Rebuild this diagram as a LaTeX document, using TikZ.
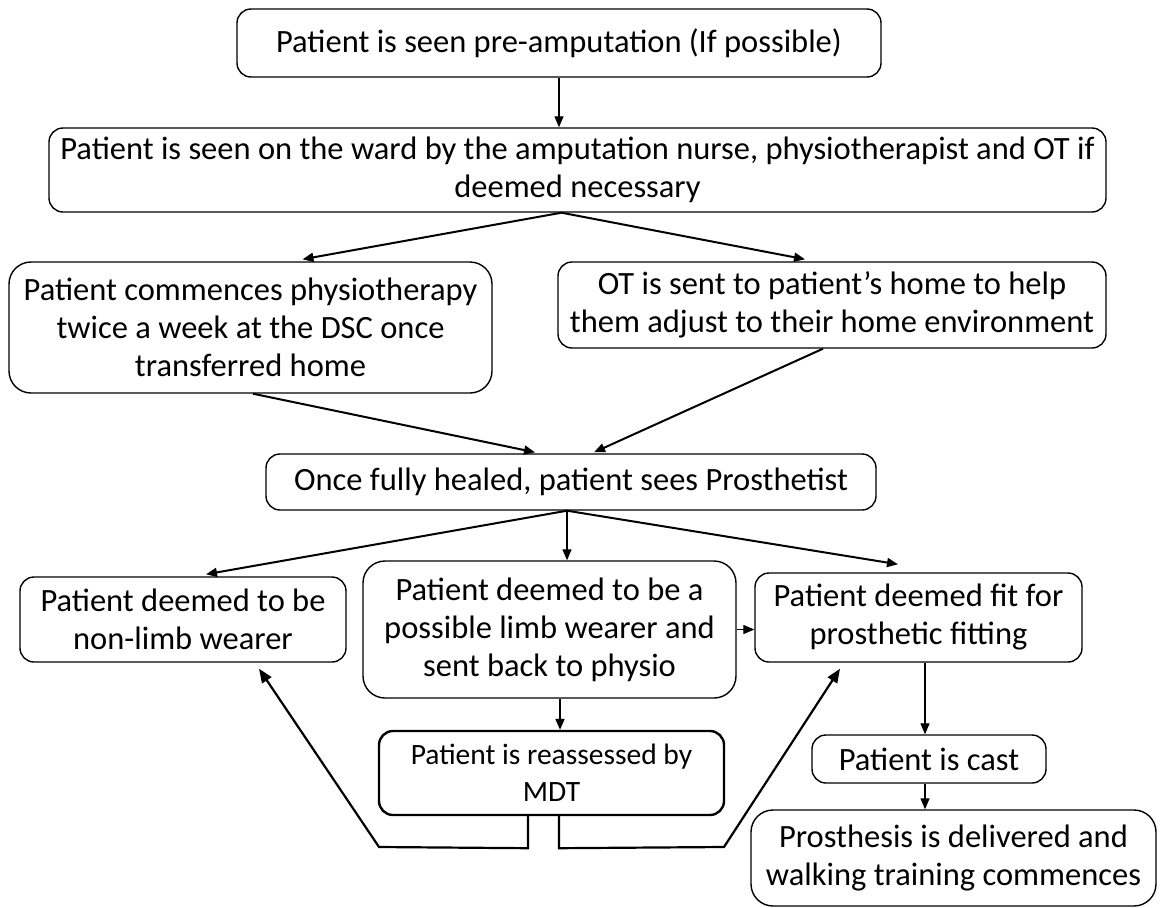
\documentclass[tikz,border=0pt]{standalone}
\usepackage{fontspec}
\setmainfont{Carlito}
\usetikzlibrary{arrows.meta}
\begin{document}
\begin{tikzpicture}[x=1pt,y=-1pt,
  box/.style={draw,rounded corners=14pt,line width=1.4pt,align=center,inner sep=0pt,
    font=\fontsize{32.5}{38}\selectfont},
  bigbox/.style={box,rounded corners=22pt},
  arr/.style={-{Triangle[length=11pt,width=9pt]},line width=1.3pt},
  thickarr/.style={arr,line width=2pt},
  loopline/.style={line width=2.2pt}]
\useasboundingbox (0,0) rectangle (1160,908);

% steps of the pathway
\node[box,minimum width=644pt,minimum height=68pt] (b1) at (559,43)
  {Patient is seen pre-amputation (If possible)};
\node[box,minimum width=1057pt,minimum height=84pt] (b2) at (577.5,170)
  {Patient is seen on the ward by the amputation nurse, physiotherapist and OT if\\ deemed necessary};
\node[bigbox,minimum width=483pt,minimum height=131pt] (b3) at (250.5,327.5)
  {Patient commences physiotherapy\\ twice a week at the DSC once\\ transferred home};
\node[box,minimum width=548pt,minimum height=86pt] (b4) at (832,305)
  {OT is sent to patient’s home to help\\ them adjust to their home environment};
\node[box,minimum width=610pt,minimum height=56pt] (b5) at (571,482)
  {Once fully healed, patient sees Prosthetist};
\node[box,minimum width=326pt,minimum height=85pt] (b6) at (183,619.5)
  {Patient deemed to be\\ non-limb wearer};
\node[bigbox,minimum width=373pt,minimum height=137pt] (b7) at (549.5,629.5)
  {Patient deemed to be a\\ possible limb wearer and\\ sent back to physio};
\node[box,minimum width=327pt,minimum height=89pt] (b8) at (918.5,617.5)
  {Patient deemed fit for\\ prosthetic fitting};
\node[box,line width=2.4pt,minimum width=345pt,minimum height=84pt,
  font=\fontsize{29.5}{37}\selectfont] (b9) at (551.5,773)
  {Patient is reassessed by\\ MDT};
\node[box,minimum width=234pt,minimum height=48pt] (b10) at (929,759)
  {Patient is cast};
\node[bigbox,minimum width=405pt,minimum height=96pt] (b11) at (953.5,858)
  {Prosthesis is delivered and\\ walking training commences};

% connectors
\draw[arr] (b1.south) -- (b1.south |- b2.north);
\draw[thickarr] ([xshift=-16pt]b2.south) -- ([xshift=52pt,yshift=2pt]b3.north);
\draw[thickarr] ([xshift=-16pt]b2.south) -- ([xshift=-27pt,yshift=2pt]b4.north);
\draw[thickarr] ([xshift=2.5pt]b3.south) -- ([xshift=-36pt,yshift=1pt]b5.north);
\draw[thickarr] ([xshift=-9pt]b4.south) -- ([xshift=23pt,yshift=1pt]b5.north);
\draw[thickarr] ([xshift=-4pt]b5.south) -- ([xshift=23pt,yshift=2pt]b6.north);
\draw[arr] ([xshift=-4pt]b5.south) -- ([xshift=-4pt]b5.south |- b7.north);
\draw[thickarr] ([xshift=-4pt]b5.south) -- ([xshift=-20.5pt,yshift=8pt]b8.north);
\draw[arr] (b7.east) -- (b7.east -| b8.west);
\draw[thickarr] ([xshift=10.5pt]b7.south) -- ([xshift=10.5pt]b7.south |- b9.north);
\draw[arr] ([xshift=6.5pt]b8.south) -- ([xshift=6.5pt]b8.south |- b10.north);
\draw[arr] ([xshift=-4pt]b10.south) -- ([xshift=-4pt]b10.south |- b11.north);

% return paths from the MDT review
\coordinate (l1) at ([xshift=-23.5pt]b9.south);
\coordinate (l2) at ([yshift=-32pt]l1);
\coordinate (l3) at (379,847);
\coordinate (r1) at ([xshift=7.5pt]b9.south);
\coordinate (r2) at ([yshift=-32pt]r1);
\coordinate (r3) at (724,847);
\draw[loopline,-{Triangle[length=14pt,width=11pt]}] (l1) -- (l2) -- (l3) -- ([xshift=76pt,yshift=-6pt]b6.south);
\draw[loopline,-{Triangle[length=14pt,width=11pt]}] (r1) -- (r2) -- (r3) -- ([xshift=-78.5pt,yshift=-6pt]b8.south);
\end{tikzpicture}
\end{document}
